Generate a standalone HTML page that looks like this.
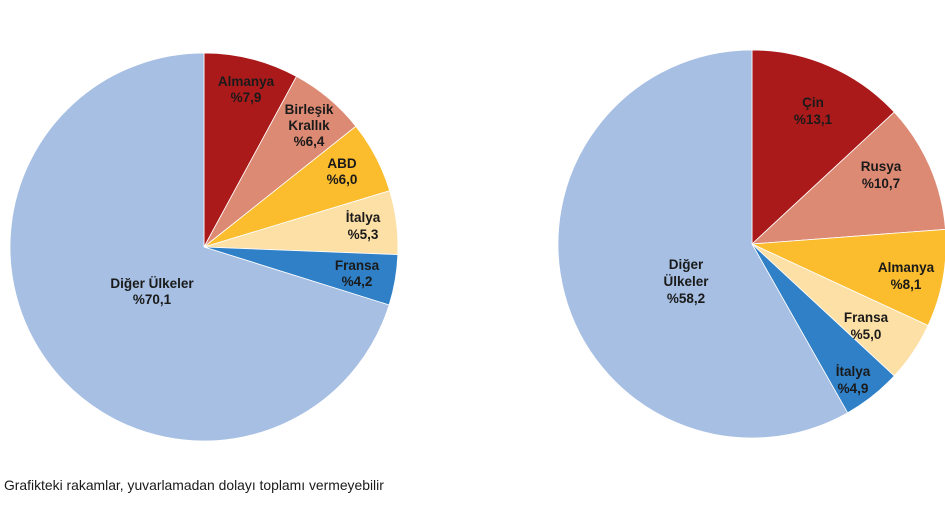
<!DOCTYPE html>
<html><head><meta charset="utf-8"><style>
body{margin:0;background:#fff;width:945px;height:515px;overflow:hidden}
svg text{font-family:"Liberation Sans",sans-serif;font-weight:bold;font-size:13.5px;fill:#1a1a1a;text-anchor:middle}
.n{font-weight:normal;text-anchor:start;font-size:13.9px}
</style></head><body>
<svg id="s" width="945" height="515" xmlns="http://www.w3.org/2000/svg">
<g id="p1"></g><g id="p2"></g>
<text x="152" y="288">Diğer Ülkeler</text><text x="152" y="304">%70,1</text>
<text x="246" y="86">Almanya</text><text x="246" y="102">%7,9</text>
<text x="309" y="114">Birleşik</text><text x="309" y="130">Krallık</text><text x="309" y="146">%6,4</text>
<text x="342" y="168">ABD</text><text x="342" y="184">%6,0</text>
<text x="363" y="222">İtalya</text><text x="363" y="239">%5,3</text>
<text x="357" y="270">Fransa</text><text x="357" y="286">%4,2</text>
<text x="813" y="107">Çin</text><text x="813" y="124">%13,1</text>
<text x="881" y="171">Rusya</text><text x="881" y="188">%10,7</text>
<text x="906" y="272">Almanya</text><text x="906" y="289">%8,1</text>
<text x="866" y="322">Fransa</text><text x="866" y="339">%5,0</text>
<text x="853" y="376">İtalya</text><text x="853" y="393">%4,9</text>
<text x="686" y="269">Diğer</text><text x="686" y="286">Ülkeler</text><text x="686" y="303">%58,2</text>
<text class="n" x="4" y="490">Grafikteki rakamlar, yuvarlamadan dolayı toplamı vermeyebilir</text>
</svg>
<script>
function pie(id,cx,cy,r,vals,cols){var g=document.getElementById(id),a=0,t=vals.reduce((x,y)=>x+y,0),h='';
vals.forEach(function(v,i){var a0=a,a1=a+v/t*2*Math.PI;a=a1;
var x0=cx+r*Math.sin(a0),y0=cy-r*Math.cos(a0),x1=cx+r*Math.sin(a1),y1=cy-r*Math.cos(a1);
h+='<path d="M'+cx+' '+cy+'L'+x0+' '+y0+'A'+r+' '+r+' 0 '+((a1-a0)>Math.PI?1:0)+' 1 '+x1+' '+y1+'Z" fill="'+cols[i]+'" stroke="#fff" stroke-width="0.8"/>';});
g.innerHTML=h;}
var c=['#ab1a1a','#dd8a74','#fbbc2d','#fde0a6','#2f80c7','#a6bfe3'];
pie('p1',204,247,194,[7.9,6.4,6.0,5.3,4.2,70.1],c);
pie('p2',752,244,194,[13.1,10.7,8.1,5.0,4.9,58.2],c);
</script>
</body></html>
